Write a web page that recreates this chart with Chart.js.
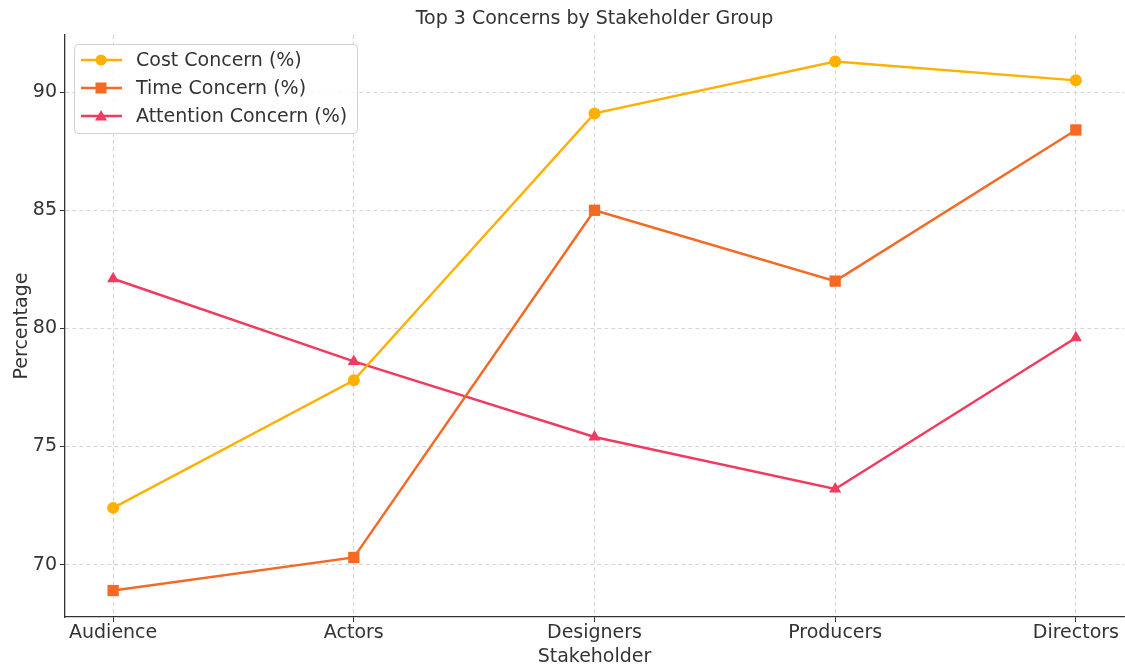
<!DOCTYPE html>
<html>
<head>
<meta charset="utf-8">
<script src="https://cdn.jsdelivr.net/npm/chart.js@4.4.0/dist/chart.umd.min.js"></script>
<style>
  body { margin: 0; background: #fff; }
  #wrap { width: 1125px; height: 668px; }
</style>
</head>
<body>
<div id="wrap"><canvas id="chart" width="1125" height="668"></canvas></div>
<script>
// Chart data
const stakeholders = ['Audience', 'Actors', 'Designers', 'Producers', 'Directors'];
const costConcern = [72.4, 77.8, 89.1, 91.3, 90.5];
const timeConcern = [68.9, 70.3, 85.0, 82.0, 88.4];
const attentionConcern = [82.1, 78.6, 75.4, 73.2, 79.6];
const yTicks = [70, 75, 80, 85, 90];
const chartTitle = 'Top 3 Concerns by Stakeholder Group';

const FONT = 'DejaVu Sans';
const FS = 19;
const TEXT = '#333333';

const toPoints = arr => arr.map((v, i) => ({ x: i, y: v }));

// title centred over the plot area, like the original
const plotTitle = {
  id: 'plotTitle',
  afterDraw(chart) {
    const ctx = chart.ctx;
    const area = chart.chartArea;
    ctx.save();
    ctx.font = `${FS}px "${FONT}"`;
    ctx.fillStyle = TEXT;
    ctx.textAlign = 'center';
    ctx.textBaseline = 'middle';
    ctx.fillText(chartTitle, (area.left + area.right) / 2, 19);
    ctx.restore();
  }
};

// legend drawn inside the plot, upper left
const innerLegend = {
  id: 'innerLegend',
  afterDatasetsDraw(chart) {
    const ctx = chart.ctx;
    const area = chart.chartArea;
    const x0 = area.left + 9, y0 = area.top + 9;
    const w = 283, h = 89;
    ctx.save();
    ctx.fillStyle = 'rgba(255,255,255,0.85)';
    ctx.strokeStyle = '#d0d0d0';
    ctx.lineWidth = 1;
    ctx.beginPath();
    ctx.roundRect(x0 + 0.5, y0 + 0.5, w, h, 4);
    ctx.fill();
    ctx.stroke();
    ctx.font = `${FS}px "${FONT}"`;
    ctx.textBaseline = 'middle';
    chart.data.datasets.forEach((ds, i) => {
      const cy = y0 + 16 + i * 28;
      ctx.strokeStyle = ds.borderColor;
      ctx.lineWidth = 2.4;
      ctx.beginPath();
      ctx.moveTo(x0 + 7, cy);
      ctx.lineTo(x0 + 48, cy);
      ctx.stroke();
      ctx.fillStyle = ds.borderColor;
      const mx = x0 + 27;
      if (ds.pointStyle === 'circle') {
        ctx.beginPath(); ctx.arc(mx, cy, 5.5, 0, Math.PI * 2); ctx.fill();
      } else if (ds.pointStyle === 'rect') {
        ctx.fillRect(mx - 5.5, cy - 5.5, 11, 11);
      } else {
        ctx.beginPath();
        ctx.moveTo(mx, cy - 6); ctx.lineTo(mx + 6, cy + 4.5); ctx.lineTo(mx - 6, cy + 4.5);
        ctx.closePath(); ctx.fill();
      }
      ctx.fillStyle = TEXT;
      ctx.fillText(ds.label, x0 + 62, cy + 1);
    });
    ctx.restore();
  }
};

new Chart(document.getElementById('chart'), {
  type: 'line',
  data: {
    datasets: [
      {
        label: 'Cost Concern (%)',
        data: toPoints(costConcern),
        borderColor: '#FFB000',
        backgroundColor: '#FFB000',
        pointStyle: 'circle',
        pointRadius: 6
      },
      {
        label: 'Time Concern (%)',
        data: toPoints(timeConcern),
        borderColor: '#F46A25',
        backgroundColor: '#F46A25',
        pointStyle: 'rect',
        pointRadius: 8
      },
      {
        label: 'Attention Concern (%)',
        data: toPoints(attentionConcern),
        borderColor: '#F03A5F',
        backgroundColor: '#F03A5F',
        pointStyle: 'triangle',
        pointRadius: 7
      }
    ]
  },
  options: {
    responsive: false,
    animation: false,
    layout: { autoPadding: false, padding: { left: 0, right: 1, top: 35, bottom: 0 } },
    elements: {
      line: { borderWidth: 2.4, tension: 0 },
      point: { borderWidth: 0 }
    },
    plugins: {
      legend: { display: false },
      tooltip: { enabled: false },
      title: { display: false }
    },
    scales: {
      x: {
        type: 'linear',
        min: -0.2,
        max: 4.2,
        afterBuildTicks: scale => { scale.ticks = stakeholders.map((s, i) => ({ value: i })); },
        afterFit: scale => {
          scale.height = 51;
          scale.paddingLeft = 0;
          scale.paddingRight = 0;
        },
        ticks: {
          color: TEXT,
          font: { family: FONT, size: FS },
          padding: 0,
          maxRotation: 0,
          callback: v => stakeholders[v]
        },
        grid: { color: '#cccccc', lineWidth: 0.8, tickLength: 5, tickColor: '#333', tickWidth: 1 },
        border: { display: true, color: '#333', width: 1.3, dash: [4, 3] },
        title: {
          display: true,
          text: 'Stakeholder',
          color: TEXT,
          font: { family: FONT, size: FS },
          padding: { top: 0, bottom: 0 }
        }
      },
      y: {
        min: 67.78,
        max: 92.42,
        afterBuildTicks: scale => { scale.ticks = yTicks.map(v => ({ value: v })); },
        afterFit: scale => {
          scale.width = 65;
          scale.paddingTop = 0;
          scale.paddingBottom = 0;
        },
        ticks: {
          color: TEXT,
          font: { family: FONT, size: FS },
          padding: 3
        },
        grid: { color: '#cccccc', lineWidth: 0.8, tickLength: 5, tickColor: '#333', tickWidth: 1 },
        border: { display: true, color: '#333', width: 1.3, dash: [4, 3] },
        title: {
          display: true,
          text: 'Percentage',
          color: TEXT,
          font: { family: FONT, size: FS },
          padding: { top: 11, bottom: 0 }
        }
      }
    }
  },
  plugins: [innerLegend, plotTitle]
});
</script>
</body>
</html>
